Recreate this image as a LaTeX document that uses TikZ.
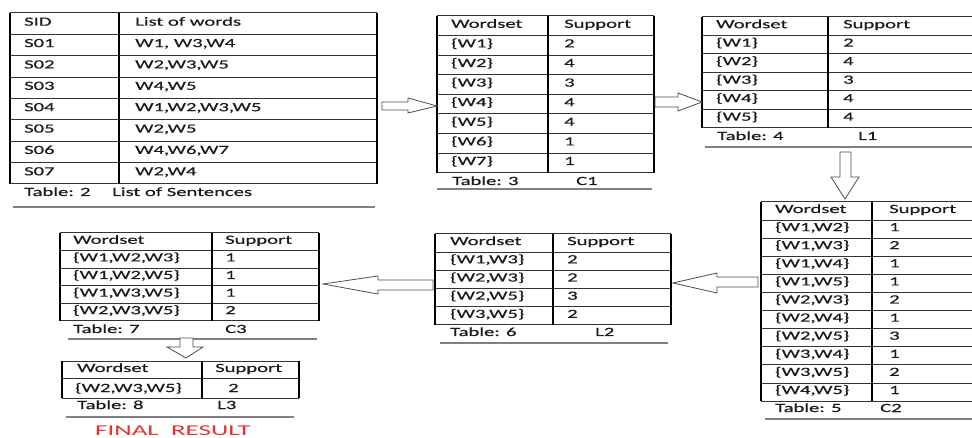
\documentclass[tikz,border=0pt]{standalone}
\usepackage{fontspec}
\setmainfont{Carlito}[FakeStretch=1.65,FakeBold=0.4]
\newfontfamily\finalfont{Carlito}[FakeStretch=1.8]
\definecolor{txt}{HTML}{1A1A24}
\definecolor{finalred}{HTML}{E8302E}
\begin{document}
\begin{tikzpicture}[x=1pt,y=-1pt,
  every node/.style={font=\fontsize{12.5}{15}\selectfont},
  hline/.style={line width=1pt, draw=black!80},
  vline/.style={line width=1.5pt, draw=black},
  cell/.style={anchor=base west, inner sep=0pt, text=txt},
  rule/.style={line width=1.2pt, draw=black!50},
  blockarrow/.style={draw=black!70, line width=0.8pt, fill=white, line join=miter}]
\useasboundingbox (0,0) rectangle (972,438);
\clip (0,0) rectangle (972,438);
\fill[white] (0,0) rectangle (972,438);

% ---------- Table 2: list of sentences ----------
\foreach \i in {0,...,8} \draw[hline] (10,13+\i*21.375) -- (377,13+\i*21.375);
\foreach \x in {10,119,377} \draw[vline] (\x,13) -- (\x,184);
\foreach \a/\b [count=\i from 0] in {SID/List of words, S01/{W1, W3,W4}, S02/{W2,W3,W5},
    S03/{W4,W5}, S04/{W1,W2,W3,W5}, S05/{W2,W5}, S06/{W4,W6,W7}, S07/{W2,W4}} {
  \node[cell] (t2-\i-a) at (24,13+\i*21.375+12.7) {\a};
  \node[cell] (t2-\i-b) at (135,13+\i*21.375+12.7) {\b};
}
\node[cell] (t2-cap) at (24,196) {Table: 2};
\node[cell] (t2-name) at (112,196) {List of Sentences};
\draw[rule] (13,207) -- (375,207);

% ---------- Table 3: C1 ----------
\foreach \i in {0,...,8} \draw[hline] (437,16+\i*19.6) -- (654,16+\i*19.6);
\foreach \x in {437,548,654} \draw[vline] (\x,16) -- (\x,172.8);
\foreach \a/\b [count=\i from 0] in {Wordset/Support, \{W1\}/2, \{W2\}/4, \{W3\}/3,
    \{W4\}/4, \{W5\}/4, \{W6\}/1, \{W7\}/1} {
  \node[cell] (t3-\i-a) at (451,16+\i*19.6+11.8) {\a};
  \node[cell] (t3-\i-b) at (564,16+\i*19.6+11.8) {\b};
}
\node[cell] (t3-cap) at (452,185) {Table: 3};
\node[cell] (t3-name) at (576,185) {C1};
\draw[rule] (437,189) -- (652,189);

% ---------- Table 4: L1 ----------
\foreach \i in {0,...,6} \draw[hline] (702,17+\i*18.5) -- (972,17+\i*18.5);
\foreach \x in {702,828} \draw[vline] (\x,17) -- (\x,128);
\foreach \a/\b [count=\i from 0] in {Wordset/Support, \{W1\}/2, \{W2\}/4, \{W3\}/3,
    \{W4\}/4, \{W5\}/4} {
  \node[cell] (t4-\i-a) at (716,17+\i*18.5+11.2) {\a};
  \node[cell] (t4-\i-b) at (843,17+\i*18.5+11.2) {\b};
}
\node[cell] (t4-cap) at (717,140) {Table: 4};
\node[cell] (t4-name) at (858,140) {L1};
\draw[rule] (705,147) -- (972,147);

% ---------- Table 5: C2 ----------
\foreach \i in {0,...,11} \draw[hline] (761,202+\i*18.1) -- (972,202+\i*18.1);
\foreach \x in {761,872} \draw[vline] (\x,202) -- (\x,401);
\foreach \a/\b [count=\i from 0] in {Wordset/Support, {\{W1,W2\}}/1, {\{W1,W3\}}/2,
    {\{W1,W4\}}/1, {\{W1,W5\}}/1, {\{W2,W3\}}/2, {\{W2,W4\}}/1, {\{W2,W5\}}/3,
    {\{W3,W4\}}/1, {\{W3,W5\}}/2, {\{W4,W5\}}/1} {
  \node[cell] (t5-\i-a) at (775,202+\i*18.1+11) {\a};
  \node[cell] (t5-\i-b) at (889,202+\i*18.1+11) {\b};
}
\node[cell] (t5-cap) at (775,412) {Table: 5};
\node[cell] (t5-name) at (880,412) {C2};
\draw[rule] (765,419) -- (972,419);

% ---------- Table 6: L2 ----------
\foreach \i in {0,...,5} \draw[hline] (435,234+\i*18.2) -- (671,234+\i*18.2);
\foreach \x in {435,553,671} \draw[vline] (\x,234) -- (\x,325);
\foreach \a/\b [count=\i from 0] in {Wordset/Support, {\{W1,W3\}}/2, {\{W2,W3\}}/2,
    {\{W2,W5\}}/3, {\{W3,W5\}}/2} {
  \node[cell] (t6-\i-a) at (450,234+\i*18.2+11.1) {\a};
  \node[cell] (t6-\i-b) at (567,234+\i*18.2+11.1) {\b};
}
\node[cell] (t6-cap) at (450,336) {Table: 6};
\node[cell] (t6-name) at (595,336) {L2};
\draw[rule] (440,343) -- (668,343);

% ---------- Table 7: C3 ----------
\foreach \i in {0,...,5} \draw[hline] (60,233+\i*17.6) -- (319,233+\i*17.6);
\foreach \x in {60,212,319} \draw[vline] (\x,233) -- (\x,321);
\foreach \a/\b [count=\i from 0] in {Wordset/Support, {\{W1,W2,W3\}}/1, {\{W1,W2,W5\}}/1,
    {\{W1,W3,W5\}}/1, {\{W2,W3,W5\}}/2} {
  \node[cell] (t7-\i-a) at (73,233+\i*17.6+10.8) {\a};
  \node[cell] (t7-\i-b) at (225,233+\i*17.6+10.8) {\b};
}
\node[cell] (t7-cap) at (73,333) {Table: 7};
\node[cell] (t7-name) at (225,333) {C3};
\draw[rule] (68,339) -- (317,339);

% ---------- Table 8: L3 ----------
\foreach \y in {361,378,398} \draw[hline] (62,\y) -- (299,\y);
\foreach \x in {62,202,299} \draw[vline] (\x,361) -- (\x,398);
\node[cell] (t8-0-a) at (77,372) {Wordset};
\node[cell] (t8-0-b) at (215,372) {Support};
\node[cell] (t8-1-a) at (75,392) {\{W2,W3,W5\}};
\node[cell] (t8-1-b) at (228,392) {2};
\node[cell] (t8-cap) at (77,409) {Table: 8};
\node[cell] (t8-name) at (217,409) {L3};
\draw[rule] (66,417) -- (294,417);

\node[anchor=base west, inner sep=0pt, text=finalred,
      font=\finalfont\fontsize{15}{18}\selectfont] (final) at (95,435.5)
      {FINAL\ \ RESULT};

% ---------- block arrows between the tables ----------
\coordinate (a1) at (382,106);
\coordinate (a2) at (655,102);
\coordinate (a3) at (845,152);
\coordinate (a4) at (758,283);
\coordinate (a5) at (433,285);
\coordinate (a6) at (186,338);
% T2 -> T3
\draw[blockarrow, shift={(a1)}] (0,-4) -- (26,-4) -- (26,-8) -- (55,0) -- (26,7)
  -- (26,4) -- (0,4) -- cycle;
% T3 -> T4
\draw[blockarrow, shift={(a2)}] (0,-5) -- (23,-5) -- (23,-9) -- (47,0) -- (23,9)
  -- (23,5) -- (0,5) -- cycle;
% T4 -> T5
\draw[blockarrow, shift={(a3)}] (-5,0) -- (6,0) -- (6,25) -- (14,25) -- (0,47)
  -- (-14,25) -- (-5,25) -- cycle;
% T5 -> T6
\draw[blockarrow, shift={(a4)}] (0,-6) -- (-41,-6) -- (-41,-10) -- (-85,0) -- (-41,10)
  -- (-41,4) -- (0,4) -- cycle;
% T6 -> T7
\draw[blockarrow, shift={(a5)}] (0,-5) -- (-55,-5) -- (-55,-9) -- (-110,-1) -- (-55,9)
  -- (-55,5) -- (0,5) -- cycle;
% T7 -> T8
\draw[blockarrow, shift={(a6)}] (-6,0) -- (7,0) -- (7,9) -- (17,9) -- (0,20)
  -- (-19,9) -- (-6,9) -- cycle;
\end{tikzpicture}
\end{document}
